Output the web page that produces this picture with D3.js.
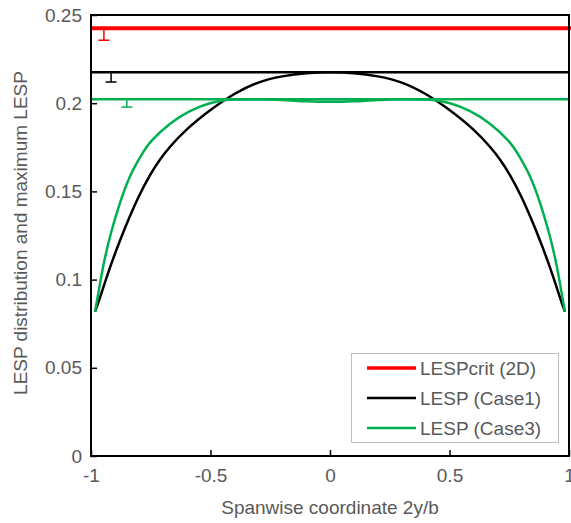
<!DOCTYPE html>
<html>
<head>
<meta charset="utf-8">
<script src="https://cdn.jsdelivr.net/npm/d3@7"></script>
<style>
  html, body { margin: 0; padding: 0; background: #fff; }
  svg { display: block; font-family: "Liberation Sans", Arial, sans-serif; }
</style>
</head>
<body>
<svg id="chart" width="571" height="523"></svg>
<script>
// Spanwise stations for Case1 (half span, mirrored below)
const spanHalf1 = [0, 0.1, 0.2, 0.3, 0.4, 0.5, 0.6, 0.669, 0.711, 0.753, 0.8, 0.84, 0.879, 0.921, 0.962, 0.983];
// LESP distribution, Case1
const lespCase1Half = [0.2175, 0.2170, 0.2152, 0.2117, 0.2052, 0.1961, 0.1850, 0.1753, 0.1681, 0.1592, 0.1471, 0.1350, 0.1220, 0.1066, 0.0900, 0.0818];
// Spanwise stations for Case3
const spanHalf3 = [0, 0.1, 0.2, 0.3, 0.4, 0.432, 0.502, 0.586, 0.669, 0.746, 0.788, 0.837, 0.879, 0.913, 0.941, 0.962, 0.983];
// LESP distribution, Case3
const lespCase3Half = [0.2008, 0.2011, 0.2018, 0.2023, 0.2021, 0.2018, 0.2000, 0.1955, 0.1884, 0.1788, 0.1708, 0.1585, 0.1434, 0.1281, 0.1127, 0.0980, 0.0818];

// Maximum values (horizontal reference lines) with their lower error bar
const maxNames = ["LESPcrit (2D)", "LESP (Case1)", "LESP (Case3)"];
const maxValues = [0.2425, 0.2175, 0.2023];
const errX = [-0.946, -0.916, -0.85];
const errLow = [0.2357, 0.2120, 0.1978];
const colors = ["#ff0000", "#000000", "#00b050"];

const xTicks = [-1, -0.5, 0, 0.5, 1];
const yTicks = [0, 0.05, 0.1, 0.15, 0.2, 0.25];

function mirror(xs, ys) {
  const pts = [];
  for (let i = xs.length - 1; i >= 0; i--) pts.push([-xs[i], ys[i]]);
  for (let i = 1; i < xs.length; i++) pts.push([xs[i], ys[i]]);
  return pts;
}
const case1 = mirror(spanHalf1, lespCase1Half);
const case3 = mirror(spanHalf3, lespCase3Half);

const svg = d3.select("#chart");
const m = { left: 91, right: 569, top: 15, bottom: 456 };
const x = d3.scaleLinear().domain([-1, 1]).range([m.left, m.right]);
const y = d3.scaleLinear().domain([0, 0.25]).range([m.bottom, m.top]);
const textColor = "#595959";
const fontSize = "19px";

// Axes with inward ticks
const xAxis = svg.append("g").attr("transform", `translate(0,${m.bottom})`)
  .call(d3.axisBottom(x).tickValues(xTicks).tickSize(-6).tickPadding(13));
const yAxis = svg.append("g").attr("transform", `translate(${m.left},0)`)
  .call(d3.axisLeft(y).tickValues(yTicks).tickSize(-6).tickPadding(9));
[xAxis, yAxis].forEach(g => {
  g.select(".domain").remove();
  g.selectAll(".tick line").attr("stroke", "#000").attr("stroke-width", 1.5);
  g.selectAll(".tick text").attr("fill", textColor).style("font-size", fontSize)
    .style("font-family", "'Liberation Sans', Arial, sans-serif")
    .text(d => String(d));
});

const line = d3.line().x(d => x(d[0])).y(d => y(d[1])).curve(d3.curveNatural);

// Distributions
svg.append("path").datum(case1).attr("d", line).attr("fill", "none")
  .attr("stroke", colors[1]).attr("stroke-width", 2.5).attr("stroke-linejoin", "round");
svg.append("path").datum(case3).attr("d", line).attr("fill", "none")
  .attr("stroke", colors[2]).attr("stroke-width", 2.5).attr("stroke-linejoin", "round");

// Maximum lines
const widths = [4, 2.5, 2.5];
maxValues.forEach((v, i) => {
  svg.append("line").attr("x1", m.left).attr("x2", i === 0 ? 571 : m.right)
    .attr("y1", y(v)).attr("y2", y(v))
    .attr("stroke", colors[i]).attr("stroke-width", widths[i]);
  // error bar
  const ex = x(errX[i]);
  svg.append("line").attr("x1", ex).attr("x2", ex).attr("y1", y(v)).attr("y2", y(errLow[i]))
    .attr("stroke", colors[i]).attr("stroke-width", 1.5);
  svg.append("line").attr("x1", ex - 5.5).attr("x2", ex + 5.5).attr("y1", y(errLow[i])).attr("y2", y(errLow[i]))
    .attr("stroke", colors[i]).attr("stroke-width", 1.5);
});

// Plot frame
svg.append("rect").attr("x", m.left).attr("y", m.top)
  .attr("width", m.right - m.left).attr("height", m.bottom - m.top)
  .attr("fill", "none").attr("stroke", "#000").attr("stroke-width", 2);

// Axis titles
svg.append("text").attr("x", 330).attr("y", 514)
  .attr("text-anchor", "middle").attr("fill", textColor).style("font-size", fontSize)
  .text("Spanwise coordinate 2y/b");
svg.append("text").attr("transform", `translate(27,233) rotate(-90)`)
  .attr("text-anchor", "middle").attr("fill", textColor).style("font-size", fontSize)
  .text("LESP distribution and maximum LESP");

// Legend
const lg = svg.append("g");
lg.append("rect").attr("x", 351.5).attr("y", 353.5).attr("width", 207).attr("height", 89)
  .attr("fill", "#fff").attr("stroke", "#bfbfbf").attr("stroke-width", 1);
const legW = [3.5, 2.5, 2.5];
maxNames.forEach((n, i) => {
  const yy = 368 + i * 30;
  lg.append("line").attr("x1", 367).attr("x2", 416).attr("y1", yy).attr("y2", yy)
    .attr("stroke", colors[i]).attr("stroke-width", legW[i]);
  lg.append("text").attr("x", 420).attr("y", yy).attr("dy", "0.36em")
    .attr("fill", textColor).style("font-size", fontSize).text(n);
});
</script>
</body>
</html>
